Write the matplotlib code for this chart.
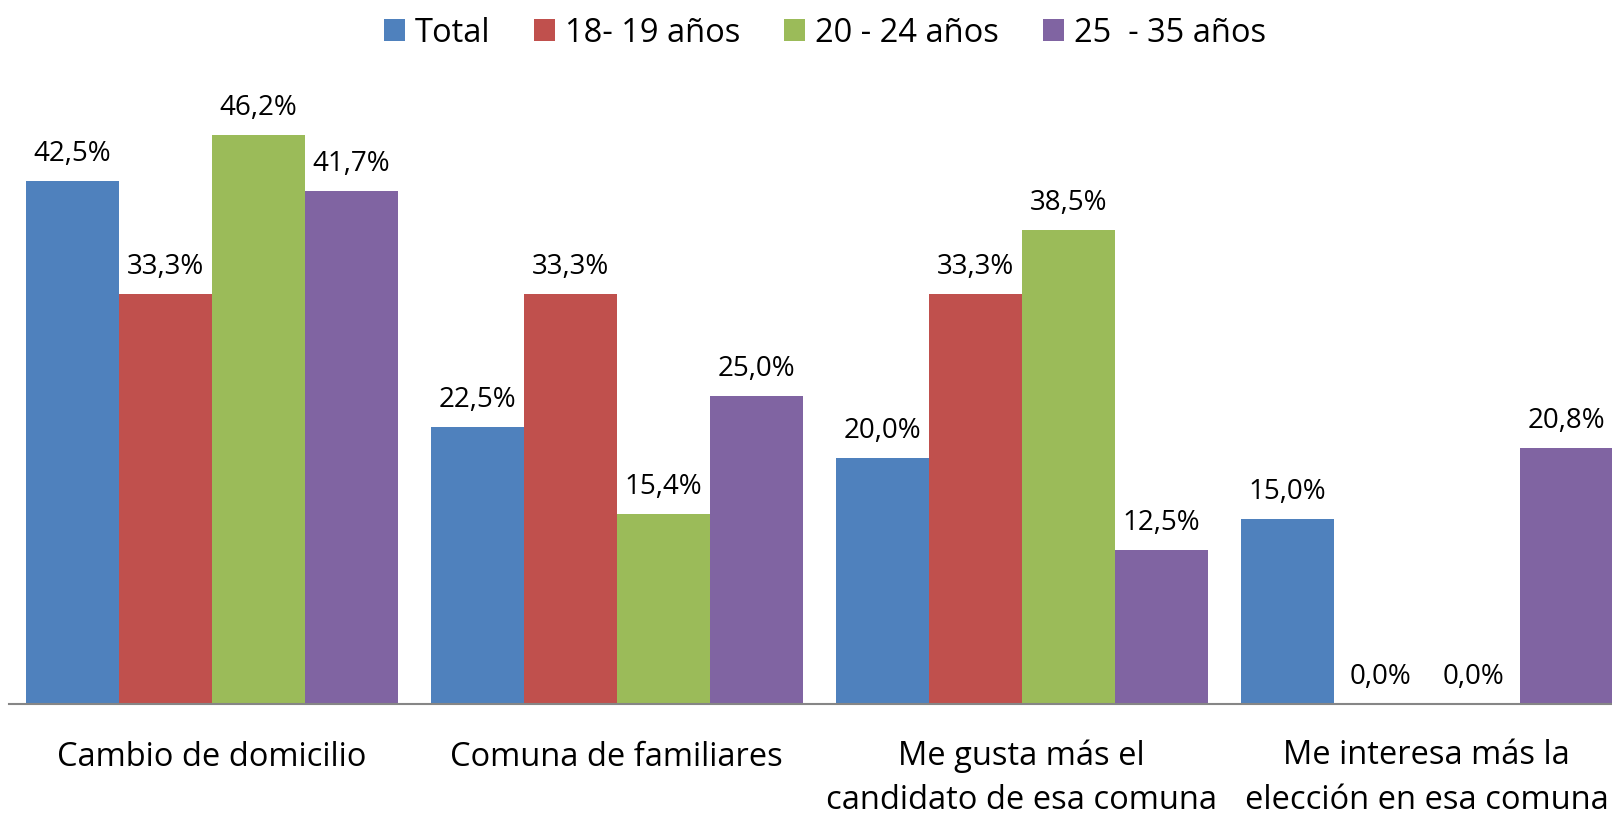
import matplotlib
matplotlib.use("Agg")
import matplotlib.pyplot as plt
from matplotlib.patches import Patch

categories = ["Cambio de domicilio", "Comuna de familiares",
              "Me gusta más el\ncandidato de esa comuna",
              "Me interesa más la\nelección en esa comuna"]
series_names = ["Total", "18- 19 años", "20 - 24 años", "25  - 35 años"]
total = [42.5, 22.5, 20.0, 15.0]
age_18_19 = [33.3, 33.3, 33.3, 0.0]
age_20_24 = [46.2, 15.4, 38.5, 0.0]
age_25_35 = [41.7, 25.0, 12.5, 20.8]
colors = ["#4F81BD", "#C0504D", "#9BBB59", "#8064A2"]

plt.rcParams['font.family'] = ['Open Sans', 'DejaVu Sans']

W, H = 1612, 814
fig = plt.figure(figsize=(W / 100, H / 100), dpi=100)
ymax = 50.0
px_per_unit = 12.31
ax = fig.add_axes([9.2 / W, 110 / H, 1620 / W, ymax * px_per_unit / H])

series = [total, age_18_19, age_20_24, age_25_35]
bw = 0.2296
n = len(series)
for k, (vals, col) in enumerate(zip(series, colors)):
    xs = [i + (k - (n - 1) / 2) * bw for i in range(len(categories))]
    ax.bar(xs, vals, width=bw, color=col, edgecolor='none', zorder=2)
    for x, v in zip(xs, vals):
        ax.annotate(f"{v:.1f}%".replace('.', ','), xy=(x, v), xytext=(0, 14.4),
                    textcoords='offset points', ha='center', va='baseline',
                    fontsize=20, color='black')

ax.set_xlim(-0.5, len(categories) - 0.5)
ax.set_ylim(0, ymax)
for s in ['top', 'right', 'left']:
    ax.spines[s].set_visible(False)
ax.spines['bottom'].set_color('#868686')
ax.spines['bottom'].set_linewidth(1.5)
ax.spines['bottom'].set_zorder(3)
ax.set_yticks([])

ax.set_xticks([0, 1], labels=categories[:2])
ax.set_xticks([2, 3], labels=categories[2:], minor=True)
ax.tick_params(axis='x', which='major', length=0, pad=26.5, labelsize=23.5)
ax.tick_params(axis='x', which='minor', length=0, pad=25.5, labelsize=23.5)
for lbl in ax.get_xticklabels(minor=True):
    lbl.set_linespacing(1.45)
    lbl.set_ha('center')

handles = [Patch(facecolor=c, edgecolor='none') for c in colors]
fig.legend(handles, series_names, loc='center', bbox_to_anchor=(825 / W, 1 - 33 / H),
           ncol=4, frameon=False, fontsize=23.5, handlelength=0.64, handleheight=0.62,
           handletextpad=0.3, columnspacing=1.35, borderpad=0, borderaxespad=0)

fig.savefig("out.png", dpi=100)
